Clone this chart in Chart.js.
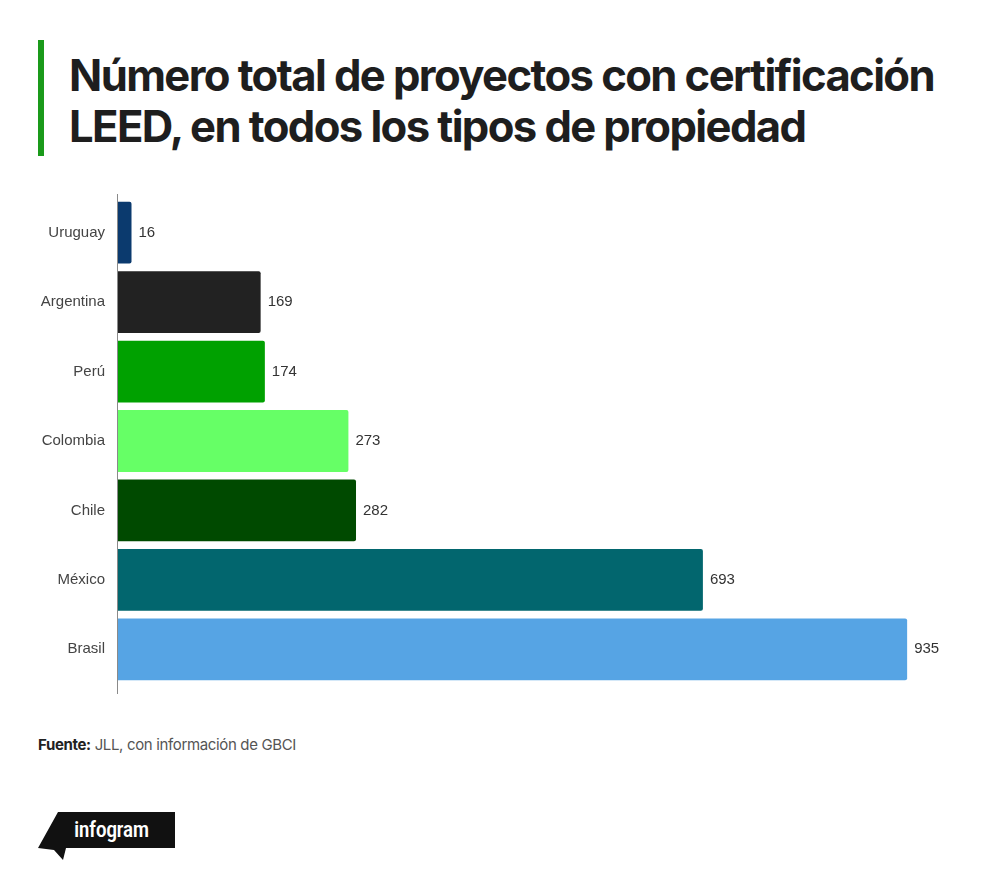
<!DOCTYPE html>
<html>
<head>
<meta charset="utf-8">
<script src="https://cdn.jsdelivr.net/npm/chart.js@4/dist/chart.umd.min.js"></script>
<style>
  html, body { margin:0; padding:0; background:#fff; width:1000px; height:881px; overflow:hidden; }
  #wrap { position:relative; width:1000px; height:881px; }
  #accent { position:absolute; left:38px; top:40px; width:6px; height:116px; background:#1a9a1a; }
  #title { position:absolute; left:69px; top:50px; margin:0; font-family:"Inter", "Roboto", sans-serif; font-weight:700; font-size:43.6px; line-height:51px; letter-spacing:-1.6px; color:#1e1e1e; white-space:nowrap; }
  #chartBox { position:absolute; left:0; top:184px; width:1000px; height:516px; }
  #source { position:absolute; left:38px; top:735px; font-family:"Inter", "Roboto", sans-serif; font-size:15px; color:#555; letter-spacing:-0.35px; }
  #source b { color:#222; font-weight:700; }
  #logo { position:absolute; left:36px; top:810px; width:145px; height:55px; }
</style>
</head>
<body>
<div id="wrap">
  <div id="accent"></div>
  <h1 id="title">Número total de proyectos con certificación<br>LEED, en todos los tipos de propiedad</h1>
  <div id="chartBox"><canvas id="c"></canvas></div>
  <div id="source"><b>Fuente:</b> JLL, con información de GBCI</div>
  <svg id="logo" viewBox="0 0 145 55">
    <polygon points="22,2 139,2 139,38 30,38 27,50 18,40 2,38" fill="#111"/>
    <text x="38" y="27" font-family="Roboto Condensed, Roboto, sans-serif" font-size="22" font-weight="500" fill="#fff" letter-spacing="-0.5">infogram</text>
  </svg>
</div>
<script>
const categories = ["Uruguay", "Argentina", "Perú", "Colombia", "Chile", "México", "Brasil"];
const values = [16, 169, 174, 273, 282, 693, 935];
const barColors = ["#0b3a6e", "#222222", "#00a100", "#66ff66", "#004a00", "#02666e", "#56a4e4"];

const labelPlugin = {
  id: 'valueLabels',
  afterDatasetsDraw(chart) {
    const ctx = chart.ctx;
    const meta = chart.getDatasetMeta(0);
    ctx.save();
    ctx.font = '15px "Liberation Sans", Arial, sans-serif';
    ctx.fillStyle = '#333';
    ctx.textAlign = 'left';
    ctx.textBaseline = 'middle';
    meta.data.forEach((bar, i) => {
      ctx.fillText(String(values[i]), bar.x + 7, bar.y);
    });
    const a = chart.chartArea;
    ctx.strokeStyle = '#8a8a8a';
    ctx.lineWidth = 1;
    ctx.beginPath();
    ctx.moveTo(a.left - 0.5, a.top - 4);
    ctx.lineTo(a.left - 0.5, a.bottom + 10);
    ctx.stroke();
    ctx.restore();
  }
};

new Chart(document.getElementById('c'), {
  type: 'bar',
  data: {
    labels: categories,
    datasets: [{
      data: values,
      backgroundColor: barColors,
      borderRadius: 2,
      borderSkipped: 'start',
      categoryPercentage: 1,
      barPercentage: 0.89
    }]
  },
  options: {
    indexAxis: 'y',
    responsive: true,
    maintainAspectRatio: false,
    animation: false,
    layout: { padding: { top: 7, bottom: 16, left: 0, right: 38 } },
    plugins: { legend: { display: false }, tooltip: { enabled: false } },
    scales: {
      x: { display: false, min: 0, max: 1000 },
      y: {
        afterFit(scale) { scale.width = 118; },
        grid: { display: false, drawBorder: false },
        border: { display: false },
        ticks: {
          color: '#444',
          padding: 5,
          font: { family: '"Liberation Sans", Arial, sans-serif', size: 15 }
        }
      }
    }
  },
  plugins: [labelPlugin]
});
</script>
</body>
</html>
